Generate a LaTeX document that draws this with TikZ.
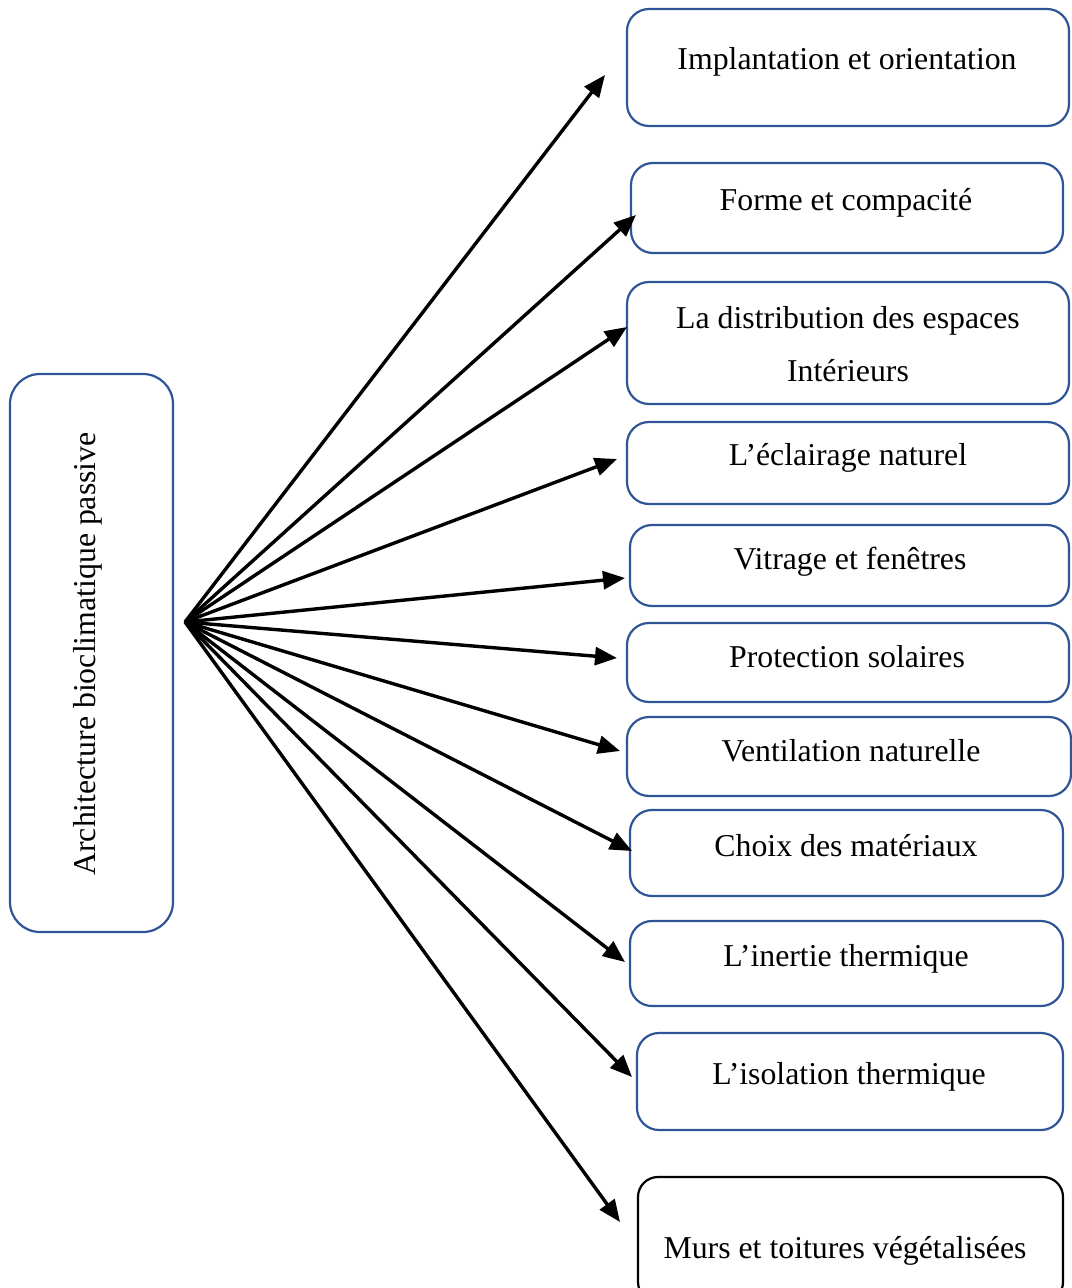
\documentclass[tikz,border=0pt]{standalone}
\usepackage{fontspec}
\setmainfont{Liberation Serif}
\usetikzlibrary{arrows.meta}
\definecolor{boxblue}{HTML}{2F5597}
\begin{document}
\begin{tikzpicture}[x=0.5pt,y=-0.5pt,
  bx/.style={draw=boxblue,line width=1.1pt,rounded corners=11pt,inner sep=0pt},
  lbl/.style={anchor=base,inner sep=0pt,font=\fontsize{15.9}{19}\selectfont},
  arr/.style={line width=1.7pt,-{Triangle[length=11pt,width=9pt]}}]
\useasboundingbox (0,0) rectangle (1071,1288);

% central box
\node[bx,rounded corners=15pt,minimum width=81.5pt,minimum height=279pt] (main) at (91.5,653) {};
\node[lbl,rotate=90] (maint) at (95,654) {Architecture bioclimatique passive};

% right-hand boxes
\node[bx,minimum width=221pt,minimum height=58.5pt] (b1) at (848,67.5) {};
\node[lbl] (t1) at (847,70) {Implantation et orientation};
\node[bx,minimum width=216pt,minimum height=45pt] (b2) at (847,208) {};
\node[lbl] (t2) at (846,211) {Forme et compacité};
\node[bx,minimum width=221pt,minimum height=61pt] (b3) at (848,343) {};
\node[lbl] (t3a) at (848,329) {La distribution des espaces};
\node[lbl] (t3b) at (848,382) {Intérieurs};
\node[bx,minimum width=221pt,minimum height=41pt] (b4) at (848,463) {};
\node[lbl] (t4) at (848,465) {L’éclairage naturel};
\node[bx,minimum width=219.5pt,minimum height=40.5pt] (b5) at (849.5,565.5) {};
\node[lbl] (t5) at (850,569) {Vitrage et fenêtres};
\node[bx,minimum width=221pt,minimum height=39.5pt] (b6) at (848,662.5) {};
\node[lbl] (t6) at (847,667) {Protection solaires};
\node[bx,minimum width=222pt,minimum height=39.5pt] (b7) at (849,756.5) {};
\node[lbl] (t7) at (851,761) {Ventilation naturelle};
\node[bx,minimum width=216.5pt,minimum height=43pt] (b8) at (846.5,853) {};
\node[lbl] (t8) at (846,856) {Choix des matériaux};
\node[bx,minimum width=216.5pt,minimum height=42.5pt] (b9) at (846.5,963.5) {};
\node[lbl] (t9) at (846,966) {L’inertie thermique};
\node[bx,minimum width=213pt,minimum height=48.5pt] (b10) at (850,1081.5) {};
\node[lbl] (t10) at (849,1084) {L’isolation thermique};
\node[bx,draw=black,rounded corners=10pt,minimum width=212.5pt,minimum height=62.5pt] (b11) at (850.5,1239.5) {};
\node[lbl] (t11) at (845,1258) {Murs et toitures végétalisées};

% fan of arrows
\coordinate (hub) at (185,622);
\coordinate (e1) at (605,75);
\coordinate (e2) at (636,215);
\coordinate (e3) at (627,327);
\coordinate (e4) at (617,459);
\coordinate (e5) at (625,578);
\coordinate (e6) at (617,658);
\coordinate (e7) at (620,751);
\coordinate (e8) at (632,851);
\coordinate (e9) at (625,962);
\coordinate (e10) at (632,1077);
\coordinate (e11) at (620,1222);
\foreach \i in {1,...,11}{\draw[arr] (hub) -- (e\i);}
\end{tikzpicture}
\end{document}
